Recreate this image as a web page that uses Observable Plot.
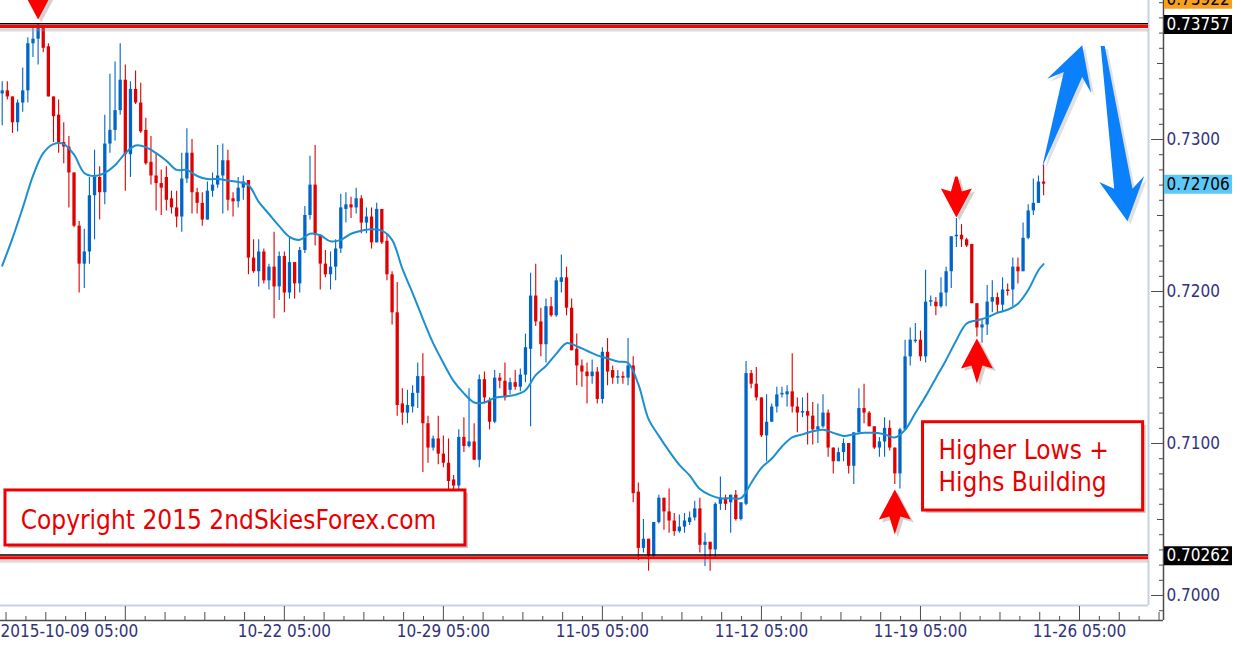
<!DOCTYPE html>
<html><head><meta charset="utf-8">
<script src="https://cdn.jsdelivr.net/npm/d3@7"></script>
<script src="https://cdn.jsdelivr.net/npm/@observablehq/plot@0.6"></script>
<style>
html,body{margin:0;padding:0;background:#fff;overflow:hidden;}
#chart{width:1241px;height:649px;overflow:hidden;}
svg{display:block;}
</style></head><body><div id="chart"></div>
<script>
// ---- Data (AUDUSD-like H4 bars) ----
const opens = [
.7330,.7332,.7328,.7311,.7324,.7332,.7363,.7366,.7373,.7361,
.7328,.7316,.7298,.7295,.7278,.7243,.7218,.7226,.7263,.7275,
.7265,.7297,.7306,.7319,.7339,.7290,.7333,.7324,.7306,.7285,
.7276,.7271,.7275,.7261,.7255,.7249,.7274,.7291,.7265,.7258,
.7247,.7266,.7270,.7276,.7286,.7261,.7259,.7268,.7273,.7222,
.7213,.7226,.7207,.7216,.7203,.7223,.7199,.7219,.7205,.7227,
.7250,.7270,.7237,.7218,.7211,.7216,.7228,.7254,.7257,.7255,
.7261,.7245,.7249,.7232,.7254,.7233,.7211,.7186,.7126,.7120,
.7124,.7133,.7144,.7113,.7097,.7103,.7093,.7087,.7076,.7072,
.7104,.7098,.7101,.7089,.7142,.7128,.7114,.7143,.7141,.7135,
.7140,.7137,.7145,.7162,.7197,.7180,.7165,.7190,.7184,.7206,
.7209,.7189,.7162,.7151,.7147,.7144,.7147,.7129,.7160,.7148,
.7143,.7144,.7143,.7151,.7068,.7031,.7037,.7026,.7048,.7064,
.7055,.7049,.7042,.7045,.7048,.7051,.7057,.7033,.7035,.7030,
.7060,.7064,.7061,.7066,.7050,.7060,.7146,.7139,.7130,.7105,
.7114,.7124,.7132,.7132,.7134,.7124,.7120,.7121,.7118,.7109,
.7111,.7120,.7097,.7088,.7094,.7100,.7085,.7107,.7123,.7120,
.7111,.7097,.7101,.7110,.7097,.7080,.7109,.7157,.7167,.7168,
.7157,.7193,.7193,.7190,.7199,.7213,.7236,.7237,.7234,.7231,
.7192,.7176,.7178,.7193,.7196,.7191,.7201,.7201,.7216,.7213,
.7235,.7253,.7258,.7272];
const highs = [
.7338,.7338,.7328,.7326,.7347,.7367,.7374,.73757,.7375,.7363,
.7328,.7326,.7311,.7302,.7278,.7246,.7241,.7275,.7293,.7282,
.7316,.7343,.7351,.7363,.7349,.7338,.7345,.7337,.7314,.7302,
.7291,.7280,.7282,.7266,.7266,.7291,.7307,.7300,.7268,.7265,
.7272,.7278,.7296,.7297,.7293,.7265,.7275,.7276,.7273,.7234,
.7234,.7228,.7218,.7239,.7226,.7226,.7236,.7219,.7229,.7256,
.7289,.7296,.7237,.7227,.7226,.7234,.7264,.7265,.7262,.7268,
.7263,.7255,.7255,.7258,.7254,.7238,.7213,.7206,.7136,.7135,
.7138,.7153,.7159,.7118,.7105,.7118,.7105,.7103,.7079,.7109,
.7117,.7136,.7113,.7145,.7147,.7130,.7148,.7146,.7153,.7143,
.7148,.7149,.7172,.7212,.7218,.7189,.7195,.7196,.7209,.7224,
.7216,.7195,.7172,.7155,.7153,.7155,.7150,.7163,.7169,.7151,
.7148,.7147,.7169,.7157,.7074,.7050,.7037,.7048,.7066,.7064,
.7070,.7054,.7053,.7054,.7055,.7062,.7064,.7041,.7035,.7061,
.7078,.7066,.7066,.7069,.7061,.7154,.7148,.7150,.7130,.7132,
.7126,.7137,.7137,.7138,.7159,.7130,.7130,.7133,.7127,.7126,
.7132,.7122,.7097,.7097,.7103,.7100,.7107,.7136,.7139,.7121,
.7111,.7104,.7117,.7115,.7097,.7110,.7168,.7176,.7179,.7174,
.7214,.7197,.7196,.7209,.7216,.7236,.7248,.7244,.7235,.7231,
.7192,.7181,.7204,.7207,.7199,.7209,.7205,.7222,.7222,.7245,
.7257,.7274,.7276,.7283];
const lows = [
.7309,.7326,.7304,.7305,.7318,.7324,.7354,.7349,.7357,.7328,
.7298,.7291,.7284,.7255,.7242,.7199,.7202,.7218,.7234,.7247,
.7257,.7291,.7299,.7316,.7266,.7275,.7323,.7304,.7283,.7270,
.7253,.7250,.7253,.7251,.7242,.7239,.7271,.7251,.7251,.7243,
.7247,.7262,.7268,.7251,.7253,.7249,.7255,.7260,.7211,.7212,
.7203,.7205,.7201,.7182,.7194,.7186,.7195,.7195,.7199,.7225,
.7247,.7230,.7201,.7209,.7201,.7207,.7225,.7245,.7248,.7251,
.7238,.7238,.7228,.7232,.7231,.7207,.7178,.7118,.7112,.7113,
.7120,.7123,.7081,.7087,.7095,.7086,.7084,.7069,.7069,.7069,
.7094,.7097,.7089,.7084,.7126,.7109,.7113,.7136,.7128,.7132,
.7135,.7134,.7140,.7111,.7177,.7157,.7153,.7183,.7183,.7199,
.7184,.7161,.7138,.7137,.7126,.7139,.7126,.7126,.7138,.7139,
.7139,.7139,.7138,.7061,.7023,.7028,.7016,.7024,.7047,.7043,
.7041,.7039,.7041,.7041,.7046,.7049,.7028,.7019,.7016,.7025,
.7056,.7056,.7041,.7049,.7049,.7059,.7136,.7128,.7104,.7088,
.7114,.7120,.7130,.7124,.7120,.7107,.7117,.7099,.7099,.7100,
.7110,.7091,.7080,.7088,.7088,.7080,.7073,.7107,.7113,.7111,
.7096,.7091,.7091,.7095,.7073,.7070,.7109,.7151,.7166,.7154,
.7153,.7190,.7184,.7189,.7190,.7202,.7229,.7229,.7229,.7192,
.7170,.7166,.7171,.7186,.7186,.7186,.7197,.7190,.7205,.7213,
.7234,.7250,.7258,.7263];
const closes = [
.7332,.7328,.7311,.7324,.7332,.7363,.7366,.7373,.7360,.7328,
.7315,.7298,.7295,.7278,.7243,.7218,.7226,.7263,.7275,.7265,
.7297,.7306,.7319,.7339,.7290,.7333,.7324,.7305,.7284,.7276,
.7271,.7268,.7260,.7255,.7249,.7274,.7291,.7265,.7258,.7247,
.7266,.7270,.7276,.7286,.7260,.7259,.7268,.7272,.7222,.7213,
.7226,.7207,.7216,.7203,.7223,.7199,.7219,.7205,.7227,.7250,
.7270,.7237,.7218,.7211,.7216,.7228,.7255,.7257,.7255,.7261,
.7245,.7249,.7232,.7254,.7232,.7211,.7186,.7125,.7120,.7125,
.7133,.7144,.7113,.7097,.7103,.7093,.7087,.7075,.7072,.7104,
.7098,.7101,.7089,.7142,.7130,.7114,.7143,.7141,.7130,.7140,
.7137,.7145,.7163,.7197,.7180,.7165,.7190,.7184,.7207,.7209,
.7189,.7161,.7151,.7147,.7144,.7147,.7129,.7160,.7147,.7143,
.7144,.7143,.7151,.7067,.7031,.7037,.7026,.7048,.7064,.7055,
.7049,.7042,.7045,.7049,.7051,.7057,.7033,.7035,.7030,.7060,
.7064,.7060,.7066,.7050,.7061,.7146,.7139,.7130,.7105,.7114,
.7124,.7132,.7133,.7134,.7124,.7120,.7121,.7118,.7109,.7111,
.7120,.7097,.7088,.7094,.7100,.7085,.7107,.7123,.7120,.7111,
.7097,.7101,.7110,.7097,.7080,.7109,.7157,.7168,.7168,.7157,
.7193,.7194,.7190,.7199,.7213,.7236,.7237,.7234,.7230,.7192,
.7176,.7178,.7193,.7196,.7191,.7201,.7200,.7216,.7213,.7235,
.7253,.7258,.7272,.72706];

// moving average line (bar index, value)
const maBars = [0,2,4,6,8,10,12,14,16,18,20,22,24,26,28,30,32,34,36,38,40,42,44,46,48,50,52,54,56,58,60,62,64,66,68,70,72,74,76,78,80,82,84,86,88,90,92,94,96,98,100,102,104,106,108,110,112,114,116,118,120,122,124,126,128,130,132,134,136,138,140,142,144,146,148,150,152,154,156,158,160,162,164,166,168,170,172,174,176,178,180,182,184,186,188,190,192,194,196,198,200,202,203];
const maValues = [.7217,.7235,.7255,.7276,.7291,.7297,.7297,.7290,.7278,.7276,.7278,.7283,.7291,.7296,.7295,.7291,.7286,.7280,.7280,.7276,.7274,.7274,.7273,.7272,.7270,.7259,.7251,.7243,.7236,.7234,.7238,.7237,.7233,.7234,.7238,.7240,.7241,.7240,.7234,.7215,.7199,.7182,.7166,.7153,.7141,.7133,.7127,.7127,.7130,.7131,.7132,.7135,.7145,.7151,.7159,.7166,.7164,.7161,.7158,.7156,.7154,.7153,.7139,.7116,.7105,.7095,.7086,.7079,.7070,.7066,.7064,.7064,.7064,.7074,.7084,.7090,.7098,.7104,.7106,.7108,.7109,.7107,.7105,.7106,.7107,.7107,.7106,.7104,.7109,.7120,.7131,.7143,.7155,.7168,.7179,.7181,.7183,.7186,.7188,.7192,.7201,.7214,.7218];

// axis ticks and labels
const majorTickBars = [24,55,86,117,148,179,210];
const tickLabelBars = [55,86,117,148,179,210];
const tickLabels = ["10-22 05:00","10-29 05:00","11-05 05:00","11-12 05:00","11-19 05:00","11-26 05:00"];
const firstBarLabel = "2015-10-09 05:00";
const priceTicks = [0.70,0.71,0.72,0.73];
const priceTagValues = [0.73922,0.73757,0.72706,0.70262];
const priceTagBg = ["#f7a01c","#000000","#5cc8f7","#000000"];
const priceTagFg = ["#000000","#ffffff","#000000","#ffffff"];
const levels = [0.73757,0.70262];

// annotation boxes (bar index / price space)
const noteText = ["Copyright 2015 2ndSkiesForex.com","Higher Lows +\nHighs Building"];
const noteBox = [[0.64,90.3,0.70691,0.70329],[179.5,222.4,0.71140,0.70559]];
const noteAnchor = [[3.6,0.70507],[182.5,0.70862]];

// ---- build ----
const RED="#e00000", BLUE="#0064c8";
const candles = opens.map((o,i)=>({i,open:o,high:highs[i],low:lows[i],close:closes[i],
  color: closes[i] >= o ? BLUE : RED}));
const ma = maBars.map((b,i)=>({b, v: maValues[i]}));
const tags = priceTagValues.map((p,i)=>({p, text: p.toFixed(5), bg: priceTagBg[i], fg: priceTagFg[i]}));
const notes = noteText.map((t,i)=>({text:t, x1:noteBox[i][0], x2:noteBox[i][1], y1:noteBox[i][2], y2:noteBox[i][3], tx:noteAnchor[i][0], ty:noteAnchor[i][1]}));
const xDomain = [-0.331, 223.45];
const yDomain = [0.699342, 0.739145];
const plotW = 1148;
const pxPerBar = plotW/(xDomain[1]-xDomain[0]);
const gx = px => xDomain[1] + px/pxPerBar;

const stepX = 31/8;
const xMinor = [], xMid = [];
for (let k=-6;k<=4+ (210-24)/stepX;k++){ if(k%8===0) continue; const b = 24 + k*stepX; if (b>gx(14)) break; (k%2===0?xMid:xMinor).push(b);}
const yMinor = [], yMid = [];
for (let k=6990;k<=7390;k+=10){ if(k%100===0) continue; (k%50===0?yMid:yMinor).push(k/10000);}

function poly(pts){ return {draw(ctx){ ctx.moveTo(pts[0][0],pts[0][1]); for(let j=1;j<pts.length;j++) ctx.lineTo(pts[j][0],pts[j][1]); ctx.closePath(); }}; }
const downArrow = poly([[0,0],[-15.5,-29],[-5.5,-26],[-1.2,-41],[1.2,-41],[5.5,-26],[15.5,-29]]);
const upArrow = poly([[0,0],[-16,30],[-5.5,27],[0,45],[5.5,27],[16,30]]);
const blueUp = poly([[-1.4,1.7],[20.2,-93.3],[3.6,-86.7],[38.6,-120],[47.6,-72.3],[38.6,-88.3]]);
const blueDown = poly([[57.1,-119.3],[61.1,-119.3],[88.9,23.4],[100.6,10.7],[83.9,56],[55.6,16.7],[70.6,23.4]]);

const font = "'DejaVu Sans Condensed','DejaVu Sans',sans-serif";
const NAVY = "#31327a";
const arrowShadow = {fill:"#000", fillOpacity:0.18, stroke:"none"};

const chart = Plot.plot({
  width:1241, height:649, marginLeft:0, marginTop:0, marginRight:1241-plotW, marginBottom:44,
  x:{domain:xDomain, axis:null},
  y:{domain:yDomain, axis:null},
  style:{fontFamily:font, fontSize:"17px", background:"#fff", fontStretch:"condensed"},
  marks:[
    // chart window border (light)
    Plot.ruleX([xDomain[1]], {stroke:"#c7d1e3", strokeWidth:2}),
    Plot.ruleY([yDomain[0]], {stroke:"#c7d1e3", strokeWidth:2}),
    // outer axis lines
    Plot.ruleX([xDomain[1]], {stroke:"#4d4d4d", strokeWidth:1.5, dx:15, insetBottom:-15}),
    Plot.ruleY([yDomain[0]], {stroke:"#4d4d4d", strokeWidth:1.5, dy:15, insetRight:-15}),
    // y ticks
    Plot.axisY({ticks:priceTicks, anchor:"right", tickSize:13, dx:2, tickFormat:()=>"", stroke:"#4d4d4d", label:null}),
    Plot.axisY({ticks:yMid, anchor:"right", tickSize:7, dx:8, tickFormat:()=>"", stroke:"#4d4d4d", label:null}),
    Plot.axisY({ticks:yMinor, anchor:"right", tickSize:5, dx:10, tickFormat:()=>"", stroke:"#4d4d4d", label:null}),
    // x ticks
    Plot.axisX({ticks:majorTickBars, anchor:"bottom", tickSize:14, dy:1, tickFormat:()=>"", stroke:"#4d4d4d", label:null}),
    Plot.axisX({ticks:xMid, anchor:"bottom", tickSize:8, dy:7, tickFormat:()=>"", stroke:"#4d4d4d", label:null}),
    Plot.axisX({ticks:xMinor, anchor:"bottom", tickSize:4, dy:11, tickFormat:()=>"", stroke:"#4d4d4d", label:null}),
    // axis labels
    Plot.text(priceTicks, {y:d=>d, frameAnchor:"right", dx:18, textAnchor:"start", text:d=>d.toFixed(4), fill:NAVY}),
    Plot.text(tickLabelBars.map((b,i)=>({b, t:tickLabels[i]})), {x:"b", frameAnchor:"bottom", dy:31, text:"t", fill:NAVY}),
    Plot.text([firstBarLabel], {x:()=>xDomain[0], frameAnchor:"bottom", dy:31, textAnchor:"start", text:d=>d, fill:NAVY}),
    // candles
    Plot.ruleX(candles, {x:"i", y1:"low", y2:"high", stroke:"color", strokeWidth:1.1}),
    Plot.ruleX(candles, {x:"i", y1:"open", y2:"close", stroke:"color", strokeWidth:3.3}),
    // moving average
    Plot.line(ma, {x:"b", y:"v", stroke:"#1b8fd2", strokeWidth:2, curve:"catmull-rom"}),
    // horizontal levels (black line, red drawn line, soft shadow)
    Plot.ruleY(levels, {stroke:"#9a9a9a", strokeOpacity:0.35, strokeWidth:3, dy:5.5}),
    Plot.ruleY(levels, {stroke:"#ff0000", strokeWidth:3, dy:2}),
    Plot.ruleY(levels, {stroke:"#000", strokeWidth:1.5, dy:-0.6}),
    // price tags in the right gutter
    Plot.ruleY(tags, {y:"p", x1:()=>gx(16), x2:()=>gx(84), stroke:"bg", strokeWidth:19}),
    Plot.text(tags, {y:"p", frameAnchor:"right", dx:18, textAnchor:"start", text:"text", fill:"fg"}),
    // red arrows
    Plot.dot([7], {x:d=>d, y:d=>highs[d], symbol:downArrow, ...arrowShadow, dx:3, dy:-2}),
    Plot.dot([7], {x:d=>d, y:d=>highs[d], symbol:downArrow, fill:"#ff0000", stroke:"none", dy:-5}),
    Plot.dot([186], {x:d=>d, y:d=>highs[d], symbol:downArrow, ...arrowShadow, dx:3, dy:2}),
    Plot.dot([186], {x:d=>d, y:d=>highs[d], symbol:downArrow, fill:"#ff0000", stroke:"none", dy:-1}),
    Plot.dot([190], {x:d=>d, y:d=>lows[d], symbol:upArrow, ...arrowShadow, dx:3, dy:4}),
    Plot.dot([190], {x:d=>d, y:d=>lows[d], symbol:upArrow, fill:"#ff0000", stroke:"none", dy:1.5}),
    Plot.dot([174], {x:d=>d, y:d=>lows[d], symbol:upArrow, ...arrowShadow, dx:3, dy:8}),
    Plot.dot([174], {x:d=>d, y:d=>lows[d], symbol:upArrow, fill:"#ff0000", stroke:"none", dy:5}),
    // blue projection arrows
    Plot.dot([203], {x:d=>d, y:d=>highs[d], symbol:blueUp, ...arrowShadow, fillOpacity:0.12, dx:3, dy:3}),
    Plot.dot([203], {x:d=>d, y:d=>highs[d], symbol:blueDown, ...arrowShadow, fillOpacity:0.12, dx:3, dy:3}),
    Plot.dot([203], {x:d=>d, y:d=>highs[d], symbol:blueUp, fill:"#0b80fb", stroke:"none"}),
    Plot.dot([203], {x:d=>d, y:d=>highs[d], symbol:blueDown, fill:"#0b80fb", stroke:"none"}),
    // annotation boxes
    Plot.rect(notes, {x1:"x1", x2:"x2", y1:"y1", y2:"y2", fill:"#000", fillOpacity:0.22, dx:3, dy:3}),
    Plot.rect(notes, {x1:"x1", x2:"x2", y1:"y1", y2:"y2", fill:"#fff", stroke:"#ee0000", strokeWidth:3}),
    Plot.text(notes, {x:"tx", y:"ty", text:"text", textAnchor:"start", fill:"#e80000", fontSize:26, lineHeight:1.23})
  ]
});
document.getElementById("chart").appendChild(chart);
</script>
</body></html>
